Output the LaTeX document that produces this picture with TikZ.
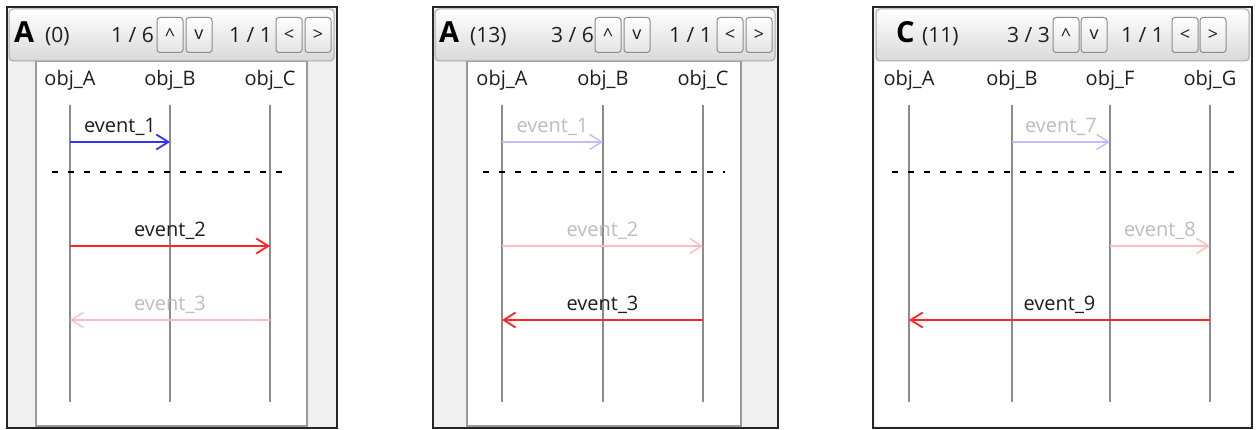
\documentclass[tikz,border=0pt]{standalone}
\usepackage{fontspec}
\setmainfont{Open Sans}
\usetikzlibrary{arrows.meta}
\definecolor{sidebg}{HTML}{F0F0F0}
\definecolor{edge}{HTML}{9A9A9A}
\definecolor{hdrline}{HTML}{A8A8A8}
\definecolor{hdrbot}{HTML}{D9D9D9}
\definecolor{btnline}{HTML}{8C8C8C}
\definecolor{btnbot}{HTML}{E4E4E4}
\definecolor{txt}{HTML}{1E1E1E}
\definecolor{lifegray}{HTML}{8C8C8C}
\definecolor{evblue}{HTML}{3333FF}
\definecolor{evred}{HTML}{FF2525}
\definecolor{fadeblue}{HTML}{BDBDFF}
\definecolor{fadered}{HTML}{FFBDBD}
\definecolor{fadetxt}{HTML}{BDBDBD}
\newcommand{\lblfont}{\fontsize{20}{24}\selectfont}
\newcommand{\hdrfont}{\fontsize{21}{24}\selectfont}
\newcommand{\titlefont}{\fontsize{29}{32}\selectfont\bfseries}
\newcommand{\btnfont}{\fontsize{18}{20}\selectfont}
\tikzset{
  frame/.style={draw=black!85, line width=2pt, fill=sidebg},
  hdr/.style={draw=hdrline, line width=1pt, rounded corners=4pt, top color=white, bottom color=hdrbot},
  btn/.style={draw=btnline, line width=1pt, rounded corners=3pt, top color=white, bottom color=btnbot,
    minimum width=26pt, minimum height=35pt, inner sep=0pt, font=\btnfont, text=txt},
  canvas/.style={fill=white, draw=edge, line width=1.2pt},
  objlbl/.style={font=\lblfont, text=txt, inner sep=0pt, anchor=base},
  life/.style={draw=lifegray, line width=1.5pt},
  sepline/.style={draw=black, line width=1.8pt, dash pattern=on 6pt off 10pt},
  msg/.style={line width=1.8pt, -{Straight Barb[length=12pt,width=15pt]}},
  evlbl/.style={font=\lblfont, inner sep=0pt, anchor=base, yshift=9pt},
  hdrtxt/.style={font=\hdrfont, text=txt, inner sep=0pt, anchor=base west},
  titletxt/.style={font=\titlefont, text=black, inner sep=0pt, anchor=base west},
}
\begin{document}
\begin{tikzpicture}[x=1pt,y=-1pt]
\useasboundingbox[fill=white] (0,0) rectangle (1258,430);

%================ PANEL 1 =================
\draw[frame] (7,7) rectangle (337,428);
\draw[canvas] (36,61) rectangle (307,426);
\draw[hdr] (9,9) rectangle (334,61);
\node[titletxt] (p1title) at (14,43) {A};
\node[hdrtxt] (p1count) at (45,43) {(0)};
\node[hdrtxt] (p1page) at (111,43) {1 / 6};
\node[btn] (p1up) at (170,35) {\textasciicircum};
\node[btn] (p1down) at (199,35) {v};
\node[hdrtxt] (p1sub) at (229,43) {1 / 1};
\node[btn] (p1prev) at (289,35) {<};
\node[btn] (p1next) at (318,35) {>};
% lifelines
\node[objlbl] (p1A) at (70,86) {obj\_A};
\node[objlbl] (p1B) at (170,86) {obj\_B};
\node[objlbl] (p1C) at (270,86) {obj\_C};
\coordinate (p1At) at (70,105); \coordinate (p1Ab) at (70,402);
\coordinate (p1Bt) at (170,105); \coordinate (p1Bb) at (170,402);
\coordinate (p1Ct) at (270,105); \coordinate (p1Cb) at (270,402);
\draw[life] (p1At) -- (p1Ab);
\draw[life] (p1Bt) -- (p1Bb);
\draw[life] (p1Ct) -- (p1Cb);
\coordinate (p1sepL) at (52,172); \coordinate (p1sepR) at (292,172);
\draw[sepline] (p1sepL) -- (p1sepR);
\coordinate (p1e1s) at (70,142); \coordinate (p1e1t) at (170,142);
\coordinate (p1e2s) at (70,246); \coordinate (p1e2t) at (270,246);
\coordinate (p1e3s) at (270,320); \coordinate (p1e3t) at (70,320);
\draw[msg, evblue] (p1e1s) -- (p1e1t) node[evlbl, midway, text=txt] (p1l1) {event\_1};
\draw[msg, evred] (p1e2s) -- (p1e2t) node[evlbl, midway, text=txt] (p1l2) {event\_2};
\draw[msg, fadered, line width=1.4pt] (p1e3s) -- (p1e3t) node[evlbl, midway, text=fadetxt] (p1l3) {event\_3};

%================ PANEL 2 =================
\draw[frame] (433,7) rectangle (778,428);
\draw[canvas] (467,61) rectangle (741,426);
\draw[hdr] (435,9) rectangle (775,61);
\node[titletxt] (p2title) at (439,43) {A};
\node[hdrtxt] (p2count) at (470,43) {(13)};
\node[hdrtxt] (p2page) at (551,43) {3 / 6};
\node[btn] (p2up) at (608,35) {\textasciicircum};
\node[btn] (p2down) at (637,35) {v};
\node[hdrtxt] (p2sub) at (669,43) {1 / 1};
\node[btn] (p2prev) at (730,35) {<};
\node[btn] (p2next) at (759,35) {>};
\node[objlbl] (p2A) at (502,86) {obj\_A};
\node[objlbl] (p2B) at (603,86) {obj\_B};
\node[objlbl] (p2C) at (703,86) {obj\_C};
\coordinate (p2At) at (502,105); \coordinate (p2Ab) at (502,402);
\coordinate (p2Bt) at (603,105); \coordinate (p2Bb) at (603,402);
\coordinate (p2Ct) at (703,105); \coordinate (p2Cb) at (703,402);
\draw[life] (p2At) -- (p2Ab);
\draw[life] (p2Bt) -- (p2Bb);
\draw[life] (p2Ct) -- (p2Cb);
\coordinate (p2sepL) at (483,172); \coordinate (p2sepR) at (725,172);
\draw[sepline] (p2sepL) -- (p2sepR);
\coordinate (p2e1s) at (502,142); \coordinate (p2e1t) at (603,142);
\coordinate (p2e2s) at (502,246); \coordinate (p2e2t) at (703,246);
\coordinate (p2e3s) at (703,320); \coordinate (p2e3t) at (502,320);
\draw[msg, fadeblue, line width=1.4pt] (p2e1s) -- (p2e1t) node[evlbl, midway, text=fadetxt] (p2l1) {event\_1};
\draw[msg, fadered, line width=1.4pt] (p2e2s) -- (p2e2t) node[evlbl, midway, text=fadetxt] (p2l2) {event\_2};
\draw[msg, evred] (p2e3s) -- (p2e3t) node[evlbl, midway, text=txt] (p2l3) {event\_3};

%================ PANEL 3 =================
\draw[frame] (873,7) rectangle (1252,428);
\draw[fill=white, draw=none] (875,61) rectangle (1250,426);
\draw[hdr] (876,9) rectangle (1249,61);
\node[titletxt] (p3title) at (896,43) {C};
\node[hdrtxt] (p3count) at (922,43) {(11)};
\node[hdrtxt] (p3page) at (1007,43) {3 / 3};
\node[btn] (p3up) at (1066,35) {\textasciicircum};
\node[btn] (p3down) at (1094,35) {v};
\node[hdrtxt] (p3sub) at (1121,43) {1 / 1};
\node[btn] (p3prev) at (1185,35) {<};
\node[btn] (p3next) at (1213,35) {>};
\node[objlbl] (p3A) at (909,86) {obj\_A};
\node[objlbl] (p3B) at (1012,86) {obj\_B};
\node[objlbl] (p3F) at (1110,86) {obj\_F};
\node[objlbl] (p3G) at (1210,86) {obj\_G};
\coordinate (p3At) at (909,105); \coordinate (p3Ab) at (909,402);
\coordinate (p3Bt) at (1012,105); \coordinate (p3Bb) at (1012,402);
\coordinate (p3Ft) at (1110,105); \coordinate (p3Fb) at (1110,402);
\coordinate (p3Gt) at (1210,105); \coordinate (p3Gb) at (1210,402);
\draw[life] (p3At) -- (p3Ab);
\draw[life] (p3Bt) -- (p3Bb);
\draw[life] (p3Ft) -- (p3Fb);
\draw[life] (p3Gt) -- (p3Gb);
\coordinate (p3sepL) at (892,172); \coordinate (p3sepR) at (1236,172);
\draw[sepline] (p3sepL) -- (p3sepR);
\coordinate (p3e7s) at (1012,142); \coordinate (p3e7t) at (1110,142);
\coordinate (p3e8s) at (1110,246); \coordinate (p3e8t) at (1210,246);
\coordinate (p3e9s) at (1210,320); \coordinate (p3e9t) at (909,320);
\draw[msg, fadeblue, line width=1.4pt] (p3e7s) -- (p3e7t) node[evlbl, midway, text=fadetxt] (p3l7) {event\_7};
\draw[msg, fadered, line width=1.4pt] (p3e8s) -- (p3e8t) node[evlbl, midway, text=fadetxt] (p3l8) {event\_8};
\draw[msg, evred] (p3e9s) -- (p3e9t) node[evlbl, midway, text=txt] (p3l9) {event\_9};
\end{tikzpicture}
\end{document}
